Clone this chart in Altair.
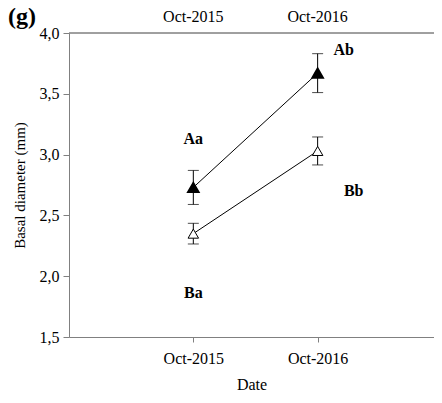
import altair as alt
import pandas as pd

dates = ["Oct-2015", "Oct-2016"]
series = ["filled", "open"]
means_filled = [2.73, 3.67]
err_filled = [0.14, 0.16]
means_open = [2.35, 3.03]
err_open = [0.085, 0.115]

letters_text = ["Aa", "Ab", "Bb", "Ba"]
letters_x = [1.0, 2.21, 2.29, 1.0]
letters_y = [3.13, 3.86, 2.70, 1.86]

rows = []
for s, means, errs in [("filled", means_filled, err_filled), ("open", means_open, err_open)]:
    for i, d in enumerate(dates):
        rows.append({"series": s, "date": d, "pos": i + 1, "mean": means[i],
                     "lo": means[i] - errs[i], "hi": means[i] + errs[i]})
df = pd.DataFrame(rows)
lab = pd.DataFrame({"t": letters_text, "pos": letters_x, "mean": letters_y})
top = pd.DataFrame({"date": dates, "pos": [i + 1 for i in range(len(dates))]})

FONT = "Liberation Serif"
AX = "#808080"
W, H = 365, 304

xs = alt.Scale(domain=[0, 2.936], nice=False, zero=False)
ys = alt.Scale(domain=[1.5, 4.0], nice=False, zero=False)

label_expr_x = "datum.value == 1 ? 'Oct-2015' : (datum.value == 2 ? 'Oct-2016' : '')"

x_axis = alt.Axis(values=[1, 2], labelExpr=label_expr_x, grid=False,
                  domainColor=AX, tickColor=AX, tickSize=5, labelPadding=8,
                  labelFont=FONT, labelFontSize=16, labelColor="black",
                  titleFont=FONT, titleFontSize=16, titleFontWeight="normal",
                  titlePadding=10, titleColor="black")
y_axis = alt.Axis(values=[1.5, 2.0, 2.5, 3.0, 3.5, 4.0],
                  labelExpr="replace(format(datum.value, '.1f'), '.', ',')",
                  grid=False, domainColor=AX, tickColor=AX, tickSize=6,
                  labelPadding=4, labelFont=FONT, labelFontSize=16, labelColor="black",
                  titleFont=FONT, titleFontSize=15, titleFontWeight="normal",
                  titlePadding=12, titleColor="black")

def X(f="pos"):
    return alt.X(f"{f}:Q", scale=xs, title="Date", axis=x_axis)

def Y(f):
    return alt.Y(f"{f}:Q", scale=ys, title="Basal diameter (mm)", axis=y_axis)

base = alt.Chart(df)

lines = base.mark_line(color="black", strokeWidth=1).encode(
    x=X(), y=Y("mean"), detail="series:N")

bars = base.mark_rule(color="black", strokeWidth=1).encode(
    x=X(), y=Y("lo"), y2="hi:Q")
caps_lo = base.mark_tick(color="black", thickness=1, size=11, orient="horizontal").encode(
    x=X(), y=Y("lo"))
caps_hi = base.mark_tick(color="black", thickness=1, size=11, orient="horizontal").encode(
    x=X(), y=Y("hi"))

pts_filled = base.transform_filter("datum.series == 'filled'").mark_point(
    shape="triangle-up", filled=True, fill="black", stroke="black", size=110, opacity=1).encode(
    x=X(), y=Y("mean"))
pts_open = base.transform_filter("datum.series == 'open'").mark_point(
    shape="triangle-up", stroke="black", strokeWidth=1, size=110, opacity=1, filled=False).encode(
    x=X(), y=Y("mean"), fill=alt.value("white"))

letters = alt.Chart(lab).mark_text(font=FONT, fontSize=16, fontWeight="bold", color="black").encode(
    x=X(), y=Y("mean"), text="t:N")

# top border line and top labels
top_line = alt.Chart(top).mark_rule(color=AX, strokeWidth=1).encode(
    x=alt.value(0), x2=alt.value(W), y=alt.value(0))
top_labels = alt.Chart(top).mark_text(font=FONT, fontSize=16, color="black", baseline="middle").encode(
    x=X(), y=alt.value(-16), text="date:N")

panel = alt.Chart(pd.DataFrame({"t": ["(g)"]})).mark_text(
    font=FONT, fontSize=24, fontWeight="bold", color="black", align="left", baseline="middle").encode(
    x=alt.value(-61), y=alt.value(-16), text="t:N")

chart = alt.layer(lines, bars, caps_lo, caps_hi, pts_open, pts_filled, letters,
                  top_line, top_labels, panel).properties(
    width=W, height=H,
    autosize=alt.AutoSizeParams(type="none"),
    padding={"left": 61, "top": 25, "right": 0, "bottom": 57},
).configure_view(stroke=None)

chart.save("out.html", embed_options={"renderer": "svg", "actions": False})
